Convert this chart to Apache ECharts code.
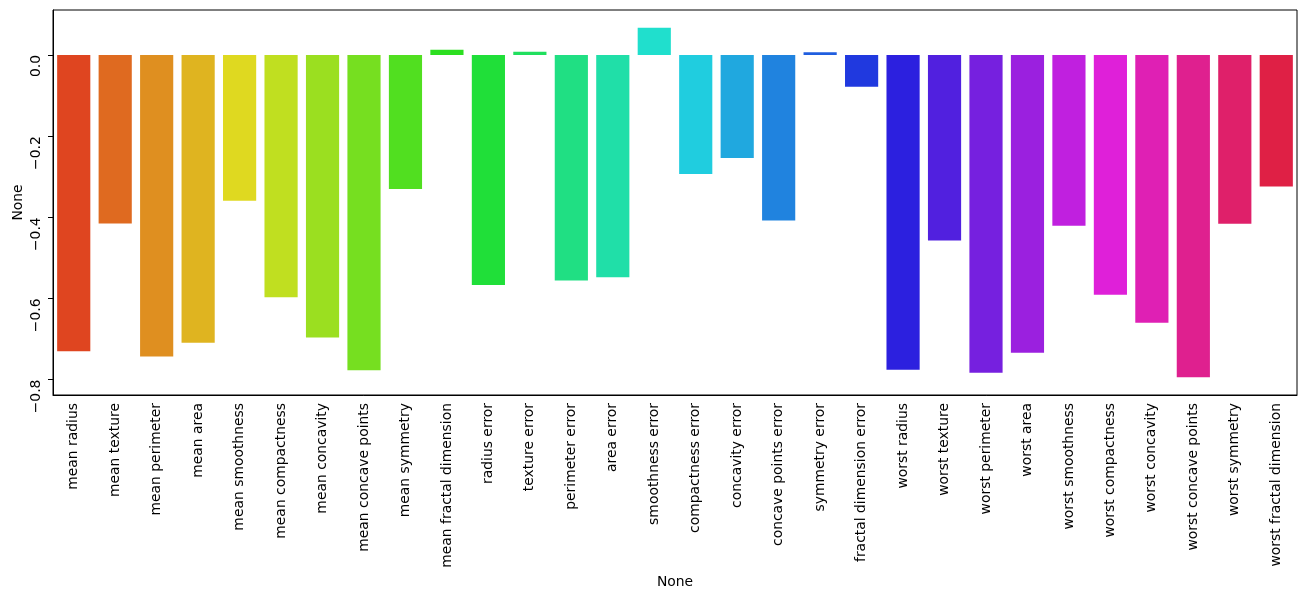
<!DOCTYPE html>
<html><head><meta charset="utf-8">
<script src="https://cdn.jsdelivr.net/npm/echarts@6/dist/echarts.min.js"></script>
<style>html,body{margin:0;padding:0;background:#fff}#c{width:1303px;height:599px}</style>
</head><body><div id="c"></div>
<script>
const categories = ["mean radius","mean texture","mean perimeter","mean area","mean smoothness","mean compactness","mean concavity","mean concave points","mean symmetry","mean fractal dimension","radius error","texture error","perimeter error","area error","smoothness error","compactness error","concavity error","concave points error","symmetry error","fractal dimension error","worst radius","worst texture","worst perimeter","worst area","worst smoothness","worst compactness","worst concavity","worst concave points","worst symmetry","worst fractal dimension"];
const values = [-0.730,-0.415,-0.743,-0.709,-0.359,-0.597,-0.696,-0.777,-0.330,0.013,-0.567,0.008,-0.556,-0.548,0.067,-0.293,-0.254,-0.408,0.007,-0.078,-0.776,-0.457,-0.783,-0.734,-0.421,-0.591,-0.660,-0.794,-0.416,-0.324];
const yTicks = [0.0,-0.2,-0.4,-0.6,-0.8];

function hsl(h,s,l){
  const a=s*Math.min(l,1-l);
  const f=n=>{const k=(n+h/30)%12;return l-a*Math.max(-1,Math.min(k-3,9-k,1));};
  const t=x=>Math.round(x*255).toString(16).padStart(2,'0');
  return '#'+t(f(0))+t(f(8))+t(f(4));
}
const colors = categories.map((c,i)=>hsl(((i+1)/(categories.length+1))*360,0.75,0.5));

const chart = echarts.init(document.getElementById('c'),null,{renderer:'canvas'});
const font = 'DejaVu Sans';
chart.setOption({
  animation:false,
  textStyle:{fontFamily:font},
  grid:{left:53,right:6,top:10,bottom:204,containLabel:false,outerBoundsMode:'none'},
  xAxis:{
    type:'category',data:categories,
    name:'None',nameLocation:'middle',nameGap:180,nameMoveOverlap:false,
    nameTextStyle:{fontSize:13.9,color:'#000',fontFamily:font},
    axisLine:{onZero:false,lineStyle:{color:'#000',width:1}},
    axisTick:{alignWithLabel:true,length:5,lineStyle:{color:'#000'}},
    axisLabel:{rotate:90,interval:0,fontSize:13.9,color:'#000',margin:8,fontFamily:font},
    splitLine:{show:false}
  },
  yAxis:{
    type:'value',min:-0.838,max:0.111,
    name:'None',nameLocation:'middle',nameGap:28,nameMoveOverlap:false,
    nameTextStyle:{fontSize:13.9,color:'#000',fontFamily:font},
    axisLine:{show:true,lineStyle:{color:'#000',width:1}},
    axisTick:{show:true,length:5,lineStyle:{color:'#000'},customValues:yTicks},
    axisLabel:{rotate:90,fontSize:13.9,color:'#000',margin:10,fontFamily:font,
      align:'right',verticalAlign:'bottom',
      customValues:yTicks,
      formatter:v=>v.toFixed(1).replace('-','\u2212')},
    splitLine:{show:false}
  },
  series:[{
    type:'bar',
    data:values.map((v,i)=>({value:v,itemStyle:{color:colors[i]}})),
    barCategoryGap:'20%'
  }],
  graphic:[{type:'rect',shape:{x:53,y:10,width:1244,height:385},style:{fill:'none',stroke:'#000',lineWidth:1},silent:true}]
});
</script></body></html>
